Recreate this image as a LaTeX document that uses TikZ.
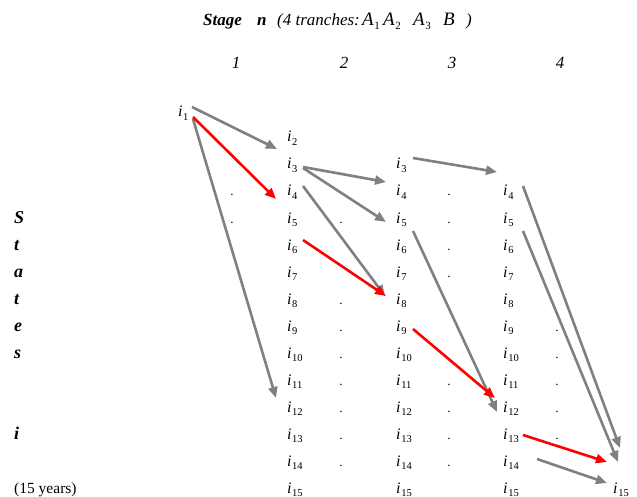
\documentclass[tikz,border=0pt]{standalone}
\usepackage{fontspec}
\setmainfont{Liberation Serif}
\usetikzlibrary{arrows.meta,calc}
\definecolor{arrgray}{RGB}{128,128,128}
\definecolor{arrred}{RGB}{255,0,0}
\newcommand{\ix}[1]{\textit{i}\kern0.6pt\raisebox{-3.2pt}{\fontsize{10.5}{10.5}\selectfont #1}}
\newcommand{\sbx}[1]{\kern0.5pt\raisebox{-3.5pt}{\fontsize{11}{11}\selectfont\upshape #1}}
\begin{document}
\begin{tikzpicture}[x=1pt,y=-1pt,
  lab/.style={inner sep=0pt, anchor=base west, font=\fontsize{16}{16}\selectfont},
  dotn/.style={inner sep=0pt, anchor=base, font=\fontsize{13}{13}\selectfont},
  hdr/.style={inner sep=0pt, anchor=base, font=\fontsize{17}{17}\selectfont\itshape},
  ttl/.style={inner sep=0pt, anchor=base west, font=\fontsize{17}{17}\selectfont\itshape},
  ttlm/.style={inner sep=0pt, anchor=base west, font=\fontsize{19}{19}\selectfont\itshape},
  side/.style={inner sep=0pt, anchor=base west, font=\fontsize{18}{18}\selectfont\bfseries\itshape},
  garr/.style={draw=arrgray, line width=2.6pt, -{Triangle[length=11pt,width=9pt]}},
  rarr/.style={draw=arrred, line width=2.6pt, -{Triangle[length=11pt,width=9pt]}}]
\useasboundingbox (0,0) rectangle (637,497);
% title
\node[ttl] (tstage) at (203,26) {\bfseries Stage};
\node[ttl] (tn) at (257,26) {\bfseries n};
\node[ttl] (ttr) at (277,26) {(4 tranches:};
\node[ttlm] (ta1) at (362,26) {A\sbx{1}};
\node[ttlm] (ta2) at (383,26) {A\sbx{2}};
\node[ttlm] (ta3) at (413,26) {A\sbx{3}};
\node[ttlm] (tb) at (443,26) {B};
\node[ttl] (tcl) at (466,26) {)};
% column headers
\node[hdr] (h1) at (236,69) {1};
\node[hdr] (h2) at (344,69) {2};
\node[hdr] (h3) at (452,69) {3};
\node[hdr] (h4) at (560,69) {4};
% side labels
\node[side] (sS) at (14,223) {S};
\node[side] (st1) at (14,250) {t};
\node[side] (sa) at (14,277) {a};
\node[side] (st2) at (14,304) {t};
\node[side] (se) at (14,331) {e};
\node[side] (ss) at (14,358) {s};
\node[side] (si) at (14,439) {i};
\node[inner sep=0pt, anchor=base west, font=\fontsize{15.5}{15.5}\selectfont] (yrs) at (14,493) {(15 years)};
% state labels
\node[lab] (c1r1) at (178,117) {\ix{1}};
\foreach \k in {2,...,15} \node[lab] (c2r\k) at (287,{142+(\k-2)*27}) {\ix{\k}};
\foreach \k in {3,...,15} \node[lab] (c3r\k) at (396,{142+(\k-2)*27}) {\ix{\k}};
\foreach \k in {4,...,15} \node[lab] (c4r\k) at (503,{142+(\k-2)*27}) {\ix{\k}};
\node[lab] (c5r15) at (613,493) {\ix{15}};
% dots
\foreach \k in {4,5,6} \node[dotn] (da\k) at (232,{142+(\k-2)*27}) {.};
\foreach \k in {5,8,9,10,11,12,13,14} \node[dotn] (db\k) at (341,{142+(\k-2)*27}) {.};
\foreach \k in {4,5,6,7,11,12,13,14} \node[dotn] (dc\k) at (449,{142+(\k-2)*27}) {.};
\foreach \k in {9,10,11,12,13} \node[dotn] (dd\k) at (557,{142+(\k-2)*27}) {.};
% arrows stage 1
\draw[garr] ($(c1r1.base west)+(14,-10)$) -- ($(c2r2.base west)+(-10,7)$);
\draw[garr] ($(c1r1.base west)+(15,2)$) -- ($(c2r12.base west)+(-11,-14)$);
\draw[rarr] ($(c1r1.base west)+(15,0)$) -- ($(c2r4.base west)+(-11,3)$);
% stage 2
\draw[garr] ($(c2r3.base west)+(16,-2)$) -- ($(c3r4.base west)+(-10,-14)$);
\draw[garr] ($(c2r3.base west)+(16,-1)$) -- ($(c3r5.base west)+(-10,-1)$);
\draw[garr] ($(c2r4.base west)+(16,-10)$) -- ($(c3r8.base west)+(-11,-8)$);
\draw[rarr] ($(c2r6.base west)+(16,-10)$) -- ($(c3r8.base west)+(-10,-8)$);
% stage 3
\draw[garr] ($(c3r3.base west)+(17,-11)$) -- ($(c4r4.base west)+(-6,-24)$);
\draw[garr] ($(c3r5.base west)+(17,8)$) -- ($(c4r12.base west)+(-6,0)$);
\draw[rarr] ($(c3r9.base west)+(17,-2)$) -- ($(c4r12.base west)+(-8,-14)$);
% stage 4
\draw[garr] ($(c4r4.base west)+(20,-10)$) -- ($(c5r15.base west)+(7,-45)$);
\draw[garr] ($(c4r5.base west)+(20,8)$) -- ($(c5r15.base west)+(5,-31)$);
\draw[rarr] ($(c4r13.base west)+(20,-4)$) -- ($(c5r15.base west)+(-6,-31)$);
\draw[garr] ($(c4r14.base west)+(34,-7)$) -- ($(c5r15.base west)+(-6,-10)$);
\end{tikzpicture}
\end{document}
